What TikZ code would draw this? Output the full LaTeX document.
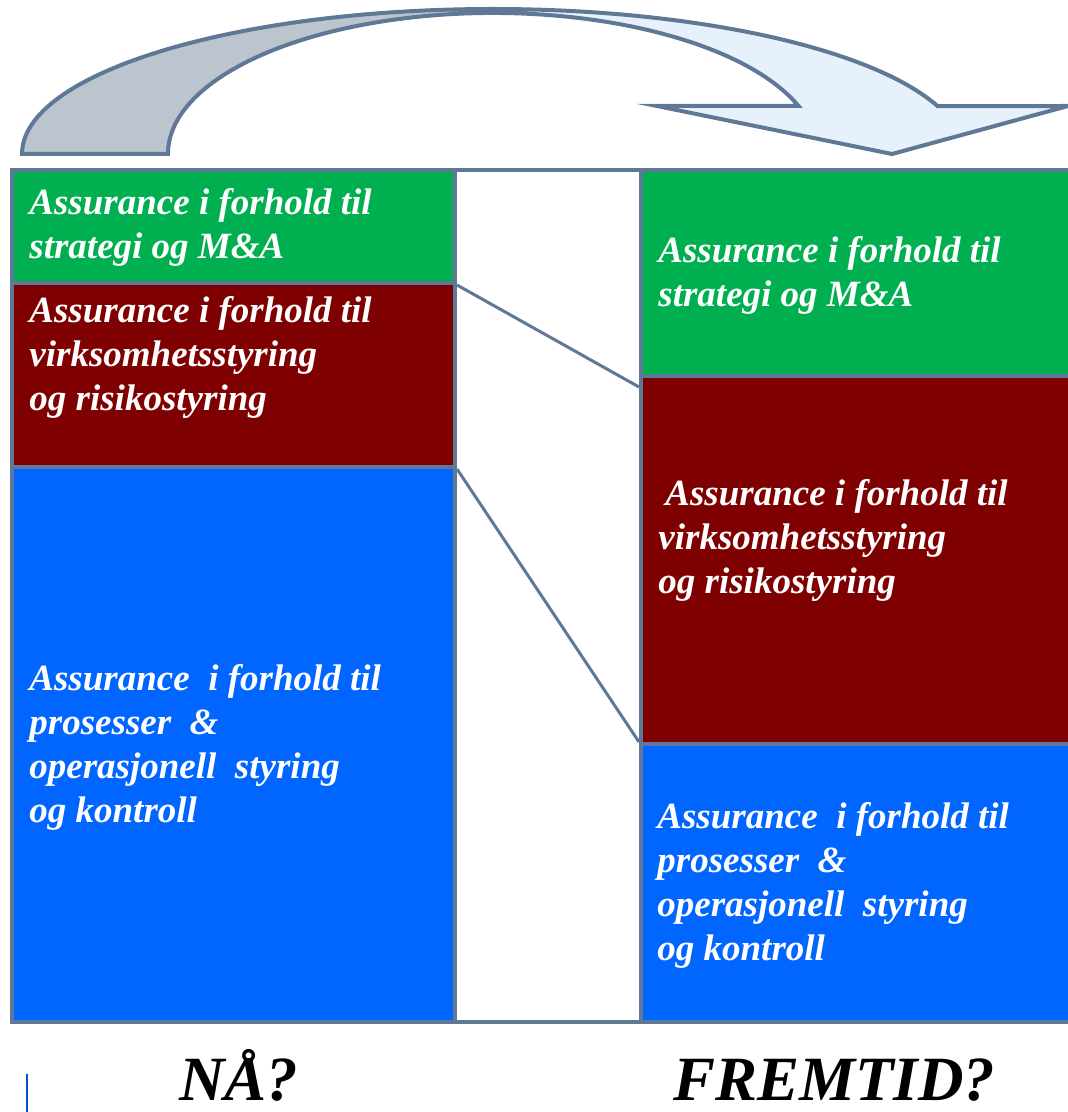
\documentclass[tikz,border=0pt]{standalone}
\usepackage{fontspec}
\setmainfont{Liberation Serif}
\usetikzlibrary{calc}

\definecolor{frame}{HTML}{5F7896}
\definecolor{boxgreen}{HTML}{00B050}
\definecolor{boxred}{HTML}{7F0000}
\definecolor{boxblue}{HTML}{0066FF}
\definecolor{arrowgray}{HTML}{BCC4CD}
\definecolor{arrowlight}{HTML}{E7F1FC}

% curved arrow outline: outer and inner elliptical arcs around (493,-154)
\def\bendarrow{(22,-154) arc[start angle=180, end angle=19.3, x radius=471, y radius=145]
  -- (1068,-106) -- (892,-154) -- (657,-106) -- (798.5,-106)
  arc[start angle=19.9, end angle=180, x radius=325, y radius=141] -- cycle}

\newcommand{\boxtext}[1]{\begin{tabular}[t]{@{}l@{}}#1\end{tabular}}

\begin{document}
\begin{tikzpicture}[x=0.5pt, y=0.5pt,
  cell/.style={draw=frame, line width=2pt, inner sep=0pt, anchor=north west, minimum width=#1},
  label/.style={anchor=base west, inner sep=0pt, text=white,
    font=\fontsize{18.5pt}{22pt}\selectfont\bfseries\itshape},
  bigtext/.style={anchor=base west, inner sep=0pt, text=black, text depth=0pt,
    font=\fontsize{31.5pt}{36pt}\selectfont\bfseries\itshape},
  link/.style={draw=frame, line width=1.5pt}]
\useasboundingbox (0,0) rectangle (1068,-1112);

% curved arrow: grey left half, light blue right half
\begin{scope}
  \clip (0,0) rectangle (493,-200);
  \fill[arrowgray] \bendarrow;
\end{scope}
\begin{scope}
  \clip (493,0) rectangle (1068,-200);
  \fill[arrowlight] \bendarrow;
\end{scope}
\draw[frame, line width=2pt, line join=miter] \bendarrow;

% left column
\node[cell=221.5pt, minimum height=56.5pt, fill=boxgreen] (Lg) at (10,-168) {};
\node[cell=221.5pt, minimum height=92pt, fill=boxred] (Lm) at (10,-281) {};
\node[cell=221.5pt, minimum height=277.5pt, fill=boxblue] (Lb) at (10,-465) {};
% middle column
\node[cell=93pt, minimum height=426pt, fill=white] (Mid) at (453,-168) {};
% right column
\node[cell=218pt, minimum height=103pt, fill=boxgreen] (Rg) at (639,-168) {};
\node[cell=218pt, minimum height=184pt, fill=boxred] (Rm) at (639,-374) {};
\node[cell=218pt, minimum height=139pt, fill=boxblue] (Rb) at (639,-742) {};

% connecting lines
\draw[link] (Lg.south east) -- ($(Rm.north west)+(0,-13)$);
\draw[link] (Lm.south east) -- (Rb.north west);

% texts, left
\node[label] (tLg) at (29,-215) {\boxtext{Assurance i forhold til\\strategi og M\&A}};
\node[label] (tLm) at (29,-322) {\boxtext{Assurance i forhold til\\virksomhetsstyring\\og risikostyring}};
\node[label] (tLb) at (29,-690) {\boxtext{Assurance\ \ i forhold til\\prosesser\ \ \&\\operasjonell\ \ styring\\og kontroll}};
% texts, right
\node[label] (tRg) at (658,-263) {\boxtext{Assurance i forhold til\\strategi og M\&A}};
\node[label] (tRm) at (658,-505) {\boxtext{\hspace{3.5pt}Assurance i forhold til\\virksomhetsstyring\\og risikostyring}};
\node[label] (tRb) at (657,-828) {\boxtext{Assurance\ \ i forhold til\\prosesser\ \ \&\\operasjonell\ \ styring\\og kontroll}};

% captions
\node[bigtext] (now) at (179,-1100) {NÅ?};
\node[bigtext] (future) at (673,-1100) {FREMTID?};
\coordinate (markA) at (27,-1074);
\coordinate (markB) at (27,-1112);
\draw[boxblue!80!black, line width=1pt] (markA) -- (markB);
\end{tikzpicture}
\end{document}
